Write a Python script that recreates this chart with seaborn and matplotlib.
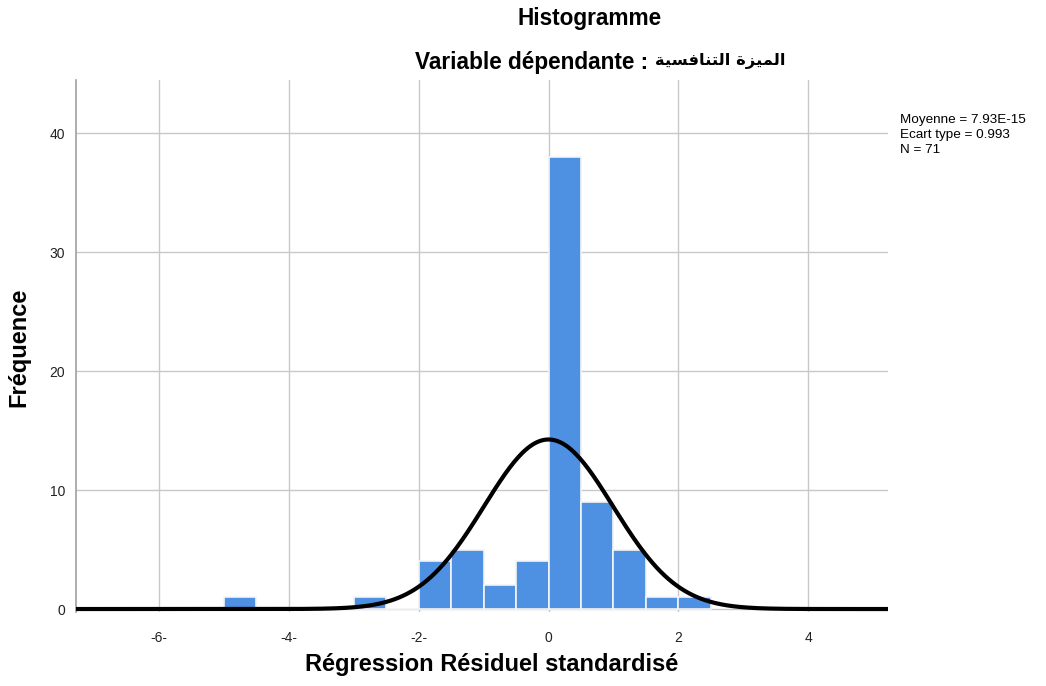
import numpy as np
import pandas as pd
import matplotlib
matplotlib.use("Agg")
import matplotlib.pyplot as plt
import seaborn as sns

# ---- data ----
bin_left = [-5.0, -4.5, -4.0, -3.5, -3.0, -2.5, -2.0, -1.5, -1.0, -0.5, 0.0, 0.5, 1.0, 1.5, 2.0]
counts   = [1, 0, 0, 0, 1, 0, 4, 5, 2, 4, 38, 9, 5, 1, 1]
bin_width = 0.5
mean_val = 7.93e-15
sd_val = 0.993
n_val = 71
xtick_pos = [-6, -4, -2, 0, 2, 4]
xtick_labels = ["-6-", "-4-", "-2-", "0", "2", "4"]
ytick_pos = [0, 10, 20, 30, 40]

# Arabic text pre-shaped (presentation forms, visual order)
arabic_visual = ("\uFE94\uFEF4\uFEB4\uFED3\uFE8E\uFEE8\uFE98\uFEDF\uFE8D"
                 " "
                 "\uFE93\uFEB0\uFEF4\uFEE4\uFEDF\uFE8D")

sns.set_theme(style="white")
plt.rcParams['font.family'] = ['Liberation Sans', 'DejaVu Sans']
plt.rcParams['text.color'] = 'black'
plt.rcParams['axes.labelcolor'] = 'black'

df = pd.DataFrame({"x": [b + bin_width / 2 for b in bin_left], "w": counts})

W, H = 1046, 686
fig = plt.figure(figsize=(W / 100, H / 100), dpi=100)
ax = fig.add_axes([76 / W, (H - 612) / H, (888 - 76) / W, (612 - 80) / H])

sns.histplot(data=df, x="x", weights="w", binwidth=bin_width,
             binrange=(bin_left[0], bin_left[-1] + bin_width), ax=ax,
             color="#4E90E2", alpha=1.0, edgecolor="#F4F4F4", linewidth=1.2, zorder=2)

xmin, xmax = -7.28, 5.23
xs = np.linspace(xmin, xmax, 600)
ys = n_val * bin_width / (sd_val * np.sqrt(2 * np.pi)) * np.exp(-0.5 * ((xs - mean_val) / sd_val) ** 2)
sns.lineplot(x=xs, y=ys, ax=ax, color="black", linewidth=3, zorder=3)

ax.set_xlim(xmin, xmax)
ax.set_ylim(-0.25, 44.5)
ax.set_xticks(xtick_pos)
ax.set_xticklabels(xtick_labels)
ax.set_yticks(ytick_pos)
ax.grid(True, color="#C8C8C8", linewidth=1)
ax.set_axisbelow(True)
ax.tick_params(axis="both", length=0, labelsize=10, colors="#222222")
ax.tick_params(axis="x", pad=14)
ax.tick_params(axis="y", pad=8)
for s in ["top", "right", "bottom"]:
    ax.spines[s].set_visible(False)
ax.spines["left"].set_color("#A0A0A0")
ax.spines["left"].set_linewidth(1.2)

ax.set_xlabel("Régression Résiduel standardisé", fontsize=17, fontweight="bold", va="center")
ax.set_ylabel("Fréquence", fontsize=17, fontweight="bold", va="center")
ax.xaxis.set_label_coords((492 - 76) / 812, (612 - 665) / 532)
ax.yaxis.set_label_coords((19 - 76) / 812, (612 - 347) / 532)

fig.text(590 / W, 1 - 19 / H, "Histogramme", ha="center", va="center",
         fontsize=16.3, fontweight="bold")
fig.text(648 / W, 1 - 62 / H, "Variable dépendante :", ha="right", va="center",
         fontsize=16.3, fontweight="bold")
fig.text(655 / W, 1 - 61 / H, arabic_visual, ha="left", va="center",
         fontsize=11.8, fontweight="bold", family=['DejaVu Sans'])

fig.text(900 / W, 1 - 135 / H,
         "Moyenne = 7.93E-15\nEcart type = 0.993\nN = 71",
         ha="left", va="center", fontsize=9.7, linespacing=1.35)

fig.savefig("out.png", dpi=100)
